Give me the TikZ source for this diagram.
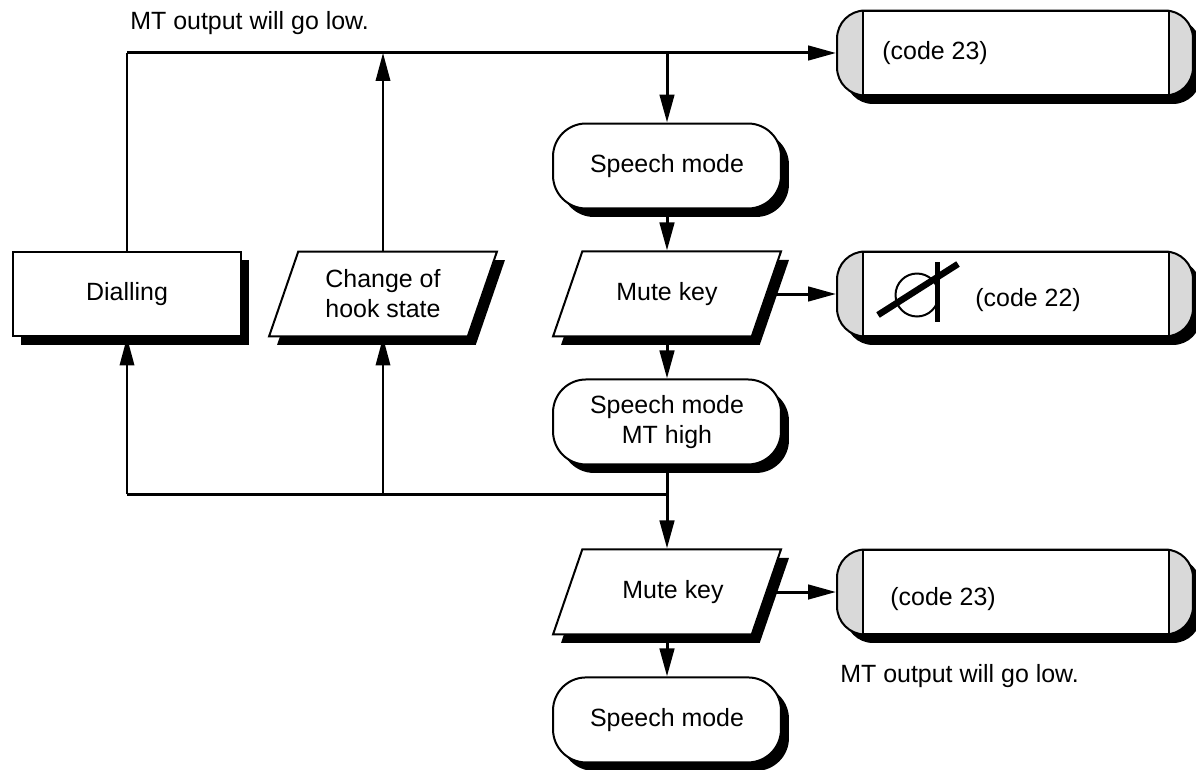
\documentclass[tikz,border=0pt]{standalone}
\usepackage{fontspec}
\setmainfont{Liberation Sans}
\usetikzlibrary{positioning,shapes.geometric,arrows.meta,shadows}
\tikzset{
    shadowed/.style={drop shadow={shadow xshift=.16cm, shadow yshift=-.17cm, opacity=1, fill=black}},
    basebox/.style={draw, line width=.04cm, fill=white, inner sep=0pt, align=center, minimum height=1.7cm, font=\fontsize{14.2}{17}\selectfont},
    procbox/.style={basebox, shadowed, rectangle, minimum width=4.56cm},
    inputbox/.style={basebox, shadowed, trapezium, trapezium left angle=71, trapezium right angle=109, trapezium stretches body=true, inner ysep=.85cm, minimum width=4.56cm},
    inputtext/.style={inner sep=0pt, align=center, font=\fontsize{14.2}{17}\selectfont},
    modebox/.style={basebox, shadowed, rectangle, rounded corners=.66cm, minimum width=4.56cm},
    capbox/.style={draw, line width=.04cm, fill=gray!30, shadowed, rectangle, rounded corners=.56cm, minimum width=7.12cm, minimum height=1.7cm},
    codebox/.style={draw, line width=.04cm, fill=white, rectangle, minimum width=6.12cm, minimum height=1.7cm},
    codetext/.style={inner sep=0pt, anchor=west, font=\fontsize{14.2}{17}\selectfont},
    flow/.style={line width=.06cm},
    flowthin/.style={line width=.04cm},
    tip/.style={-{Triangle[length=.56cm,width=.29cm]}},
}
\begin{document}
\begin{tikzpicture}[x=.02cm, y=-.02cm]
    \useasboundingbox (0,0) rectangle (1196,770);

    \node[modebox] (speecha) at (667,166) {Speech mode};
    \node[inputbox, below=.82cm of speecha] (mutea) {};
    \node[inputtext] (muteatext) at (mutea.center) {Mute key};
    \node[modebox, below=.82cm of mutea] (speechb) {Speech mode \\ MT high};
    \node[inputbox, below=1.66cm of speechb] (muteb) {};
    \node[inputtext, xshift=.12cm] (mutebtext) at (muteb.center) {Mute key};
    \node[modebox, below=.82cm of muteb] (speechc) {Speech mode};

    \node[procbox] (dial) at (127,294) {Dialling};
    \node[inputbox] (hook) at (383,294) {};
    \node[inputtext] (hooktext) at (hook.center) {Change of \\ hook state};

    \node[capbox] (capa) at (1015,53) {};
    \node[codebox] (codea) at (1016,53) {};
    \node[codetext] (texta) at (882,53) {(code 23)};

    \node[capbox] (capb) at (1015,294) {};
    \node[codebox] (codeb) at (1016,294) {};
    \node[codetext] (textb) at (975,300) {(code 22)};

    \node[capbox] (capc) at (1015,592) {};
    \node[codebox] (codec) at (1016,592) {};
    \node[codetext] (textc) at (890,599) {(code 23)};

    \node[codetext] (notea) at (130,23) {MT output will go low.};
    \node[codetext] (noteb) at (840,676) {MT output will go low.};

    \node[circle, draw, line width=.04cm, minimum size=.86cm, inner sep=0pt] (mic) at (917,295) {};
    \draw[line width=.1cm] (937,262) -- (937,322);
    \draw[line width=.13cm] (878,315) -- (958,264);

    \coordinate (topleft) at (dial.north |- capa.west);
    \coordinate (topjoin) at (speecha.north |- capa.west);
    \coordinate (lowjoin) at (667,494);

    \draw[flowthin] (dial.north) -- (topleft);
    \draw[flow, tip] (topleft) -- (capa.west);
    \draw[flowthin, tip] (hook.north) -- (hook.north |- capa.west);
    \draw[flow, tip] (topjoin) -- (speecha.north);
    \draw[flow, tip] (speecha.south) -- (mutea.north);
    \draw[flow, tip] (mutea.south) -- (speechb.north);
    \draw[flow, tip] (speechb.south) -- (muteb.north);
    \draw[flow, tip] (muteb.south) -- (speechc.north);
    \draw[flow, tip] (mutea.east |- capb.west) -- (capb.west);
    \draw[flow, tip] (muteb.east |- capc.west) -- (capc.west);
    \draw[flow] (lowjoin) -- (lowjoin -| dial.south);
    \draw[flowthin, tip] (lowjoin -| dial.south) -- (dial.south);
    \draw[flowthin, tip] (lowjoin -| hook.south) -- (hook.south);
\end{tikzpicture}
\end{document}
